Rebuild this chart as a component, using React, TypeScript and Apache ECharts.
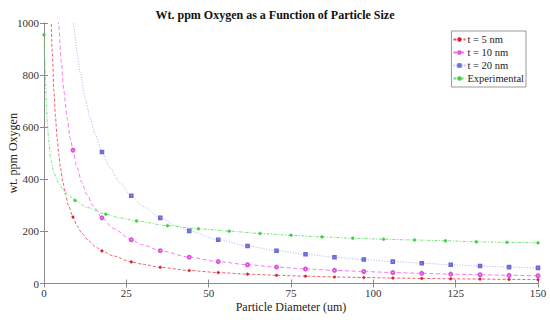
import React, { useEffect, useRef } from "react";
import * as echarts from "echarts";

const seriesNames = ["t = 5 nm", "t = 10 nm", "t = 20 nm", "Experimental"];
const xTicks = [0, 25, 50, 75, 100, 125, 150];
const yTicks = [0, 200, 400, 600, 800, 1000];

// marker positions (model curves) and values
const modelX = [8.8, 17.6, 26.5, 35.3, 44.1, 52.9, 61.8, 70.6, 79.4, 88.2, 97.1, 105.9, 114.7, 123.5, 132.4, 141.2, 150];
const t5 = [255, 125, 83, 62, 50, 42, 36, 31.5, 28, 25, 23, 21, 19.4, 18, 17, 15.8, 14.8];
const t10 = [512, 252, 168, 126, 101, 84, 72, 63, 56, 50.5, 46, 42, 39, 36, 33.6, 31.5, 29.7];
const t20 = [1010, 505, 337, 252, 202, 168, 144, 126, 112, 101, 92, 84, 78, 72, 67, 63, 60];
// extra points along the model curves (line only, no markers)
const t5LeadX = [2.0, 2.5, 3.0, 3.5, 4.0, 4.5, 5.0, 5.7, 6.5, 7.5, 10, 11.5, 13.5, 15.5, 21, 30];
const t5Lead = [1112, 890, 742, 636, 556, 494, 445, 390, 342, 297, 222, 193, 165, 143, 106, 74];
const t10LeadX = [4.0, 4.5, 5.2, 6.0, 7.0, 8.0, 10, 11.5, 13, 15, 21, 30];
const t10Lead = [1112, 989, 856, 742, 636, 556, 445, 387, 342, 297, 212, 148];
const t20LeadX = [8.0, 9.0, 10.0, 11.0, 12.5, 14, 15.5, 20, 23, 30, 40];
const t20Lead = [1112, 989, 890, 809, 712, 636, 574, 445, 387, 297, 222];

// experimental
const expX = [0, 9.4, 18.75, 28.1, 37.5, 46.9, 56.25, 65.6, 75, 84.4, 93.75, 103.1, 112.5, 121.9, 131.25, 140.6, 150];
const expY = [955, 319, 266, 240, 222, 210, 201, 192, 185, 179, 174, 170, 167, 164, 160, 158, 156];
const expLeadX = [0.2, 0.45, 0.7, 1.0, 1.4, 2.0, 3.0, 4.3, 6.0, 7.5, 13, 23];
const expLead = [870, 780, 700, 620, 550, 480, 425, 388, 358, 338, 292, 252];

const FONT = "Liberation Serif";

function build(markX: number[], markY: number[], leadX: number[], leadY: number[]) {
  const pts: any[] = [];
  leadX.forEach((x, i) => pts.push({ value: [x, leadY[i]], symbol: "none" }));
  markX.forEach((x, i) => pts.push({ value: [x, markY[i]] }));
  pts.sort((a, b) => a.value[0] - b.value[0]);
  return pts;
}

export default function App() {
  const ref = useRef<HTMLDivElement>(null);
  useEffect(() => {
    if (!ref.current) return;
    const chart = echarts.init(ref.current, null, { renderer: "svg" });
    const axisLine = { show: true, lineStyle: { color: "#8a8a8a", width: 1 } };
    const tick = { show: true, inside: true, length: 4, lineStyle: { color: "#8a8a8a" } };
    const label = { color: "#333", fontFamily: FONT, fontSize: 11 };
    const mk = (
      name: string,
      data: any[],
      lineColor: string,
      markColor: string,
      dash: number[],
      symbol: string,
      size: number
    ) => ({
      name,
      type: "line",
      data,
      smooth: 0.25,
      smoothMonotone: "x",
      symbol,
      symbolSize: size,
      showSymbol: true,
      clip: true,
      lineStyle: { color: lineColor, width: 0.9, type: dash },
      itemStyle: { color: markColor, borderColor: markColor, borderWidth: 0.6 },
    });
    chart.setOption({
      animation: false,
      backgroundColor: "#fff",
      title: {
        text: "Wt. ppm Oxygen as a Function of Particle Size",
        left: "center",
        top: 4,
        textStyle: { fontFamily: FONT, fontSize: 12, fontWeight: "bold", color: "#111" },
      },
      grid: { left: 44, right: 12, top: 23, bottom: 38.5, outerBoundsMode: "none", containLabel: false },
      legend: {
        right: 24,
        top: 31,
        orient: "vertical",
        data: seriesNames,
        itemWidth: 12,
        itemHeight: 3,
        itemGap: 2,
        padding: [3, 2, 3, 1],
        borderColor: "#999",
        borderWidth: 1,
        backgroundColor: "#fff",
        textStyle: { fontFamily: FONT, fontSize: 10.5, color: "#222", padding: [0, 0, 0, -3] },
      },
      xAxis: [
        {
          type: "value",
          min: 0,
          max: 150,
          interval: 25,
          position: "bottom",
          name: "Particle Diameter (um)",
          nameLocation: "middle",
          nameGap: 17,
          nameMoveOverlap: false,
          nameTextStyle: { fontFamily: FONT, fontSize: 12, color: "#222" },
          axisLine,
          axisTick: tick,
          axisLabel: { ...label, margin: 4, formatter: (v: number) => (xTicks.includes(v) ? String(v) : "") },
          splitLine: { show: false },
        },
        {
          type: "value",
          min: 0,
          max: 150,
          interval: 25,
          position: "top",
          axisLine,
          axisTick: tick,
          axisLabel: { show: false },
          splitLine: { show: false },
        },
      ],
      yAxis: [
        {
          type: "value",
          min: 0,
          max: 1000,
          interval: 200,
          position: "left",
          name: "wt. ppm Oxygen",
          nameLocation: "middle",
          nameGap: 25,
          nameMoveOverlap: false,
          nameTextStyle: { fontFamily: FONT, fontSize: 12, color: "#222" },
          axisLine,
          axisTick: tick,
          axisLabel: { ...label, margin: 5, formatter: (v: number) => (yTicks.includes(v) ? String(v) : "") },
          splitLine: { show: false },
        },
        {
          type: "value",
          min: 0,
          max: 1000,
          interval: 200,
          position: "right",
          axisLine,
          axisTick: tick,
          axisLabel: { show: false },
          splitLine: { show: false },
        },
      ],
      series: [
        mk(seriesNames[0], build(modelX, t5, t5LeadX, t5Lead), "#e8505a", "#d8202a", [3, 2], "circle", 2.5),
        mk(seriesNames[1], build(modelX, t10, t10LeadX, t10Lead), "#f070f0", "#e050e0", [4, 2.5], "emptyCircle", 3),
        mk(seriesNames[2], build(modelX, t20, t20LeadX, t20Lead), "#b4b4f0", "#6a6ad8", [1.2, 1.5], "emptyRect", 2.6),
        mk(seriesNames[3], build(expX, expY, expLeadX, expLead), "#66e066", "#44cc44", [3, 1.5, 1, 1.5], "circle", 2.8),
      ],
    });
    return () => chart.dispose();
  }, []);
  return (
    <div
      ref={ref}
      style={{ position: "absolute", left: 0, top: 0, width: 550, height: 322, background: "#fff" }}
    />
  );
}
